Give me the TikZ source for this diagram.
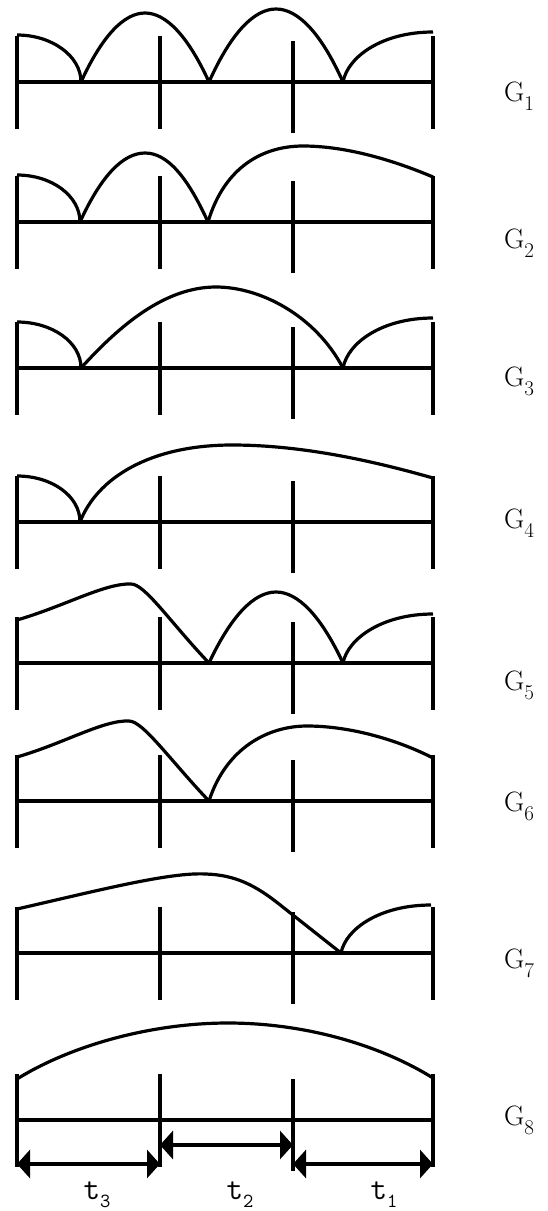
\documentclass[tikz,border=0pt]{standalone}
\usepackage{fontspec}
\usetikzlibrary{arrows.meta}
\newcommand{\glab}[1]{G\raisebox{-9pt}{\fontsize{21}{21}\selectfont #1}}
\newcommand{\tlab}[1]{{\ttfamily t\raisebox{-8pt}{\fontsize{20}{20}\selectfont #1}}}
\begin{document}
\begin{tikzpicture}[x=1pt,y=-1pt,
  axisline/.style={line width=3.3pt},
  tickline/.style={line width=3.3pt},
  curveline/.style={line width=3.2pt},
  dimarrow/.style={line width=3.2pt,{Triangle[length=13pt,width=28pt]}-{Triangle[length=13pt,width=28pt]}},
  glabel/.style={anchor=base,inner sep=0pt,font=\fontsize{28}{28}\selectfont},
  tlabel/.style={anchor=base,inner sep=0pt,font=\fontsize{32}{32}\selectfont}]
\useasboundingbox (0,0) rectangle (547,1211);

% axes and ticks
\foreach \A in {82,222,368,522,663,801,953,1120} {
  \draw[axisline] (17,\A) -- (433,\A);
  \draw[tickline] (17,\A-46) -- (17,\A+47);
  \draw[tickline] (160,\A-46) -- (160,\A+47);
  \draw[tickline] (293,\A-41) -- (293,\A+51);
  \draw[tickline] (433,\A-46) -- (433,\A+47);
}
% named tick feet for the dimension arrows
\coordinate (a0) at (17,1164);
\coordinate (a1) at (160,1164);
\coordinate (a1h) at (160,1145);
\coordinate (a2h) at (293,1145);
\coordinate (a2) at (293,1164);
\coordinate (a3) at (433,1164);

% G1
\draw[curveline] (17,35) .. controls (52,35) and (81,56) .. (81,82);
\draw[curveline] (81,82) .. controls (102,36) and (124,13) .. (145,13) .. controls (166,13) and (188,36) .. (209,82);
\draw[curveline] (209,82) .. controls (231,33) and (254,9) .. (276,9) .. controls (298,9) and (321,33) .. (343,82);
\draw[curveline] (343,82) .. controls (348,56) and (383,32) .. (433,32);

% G2
\draw[curveline] (17,175) .. controls (52,175) and (80,196) .. (80,222);
\draw[curveline] (80,222) .. controls (101,176) and (123,153) .. (145,153) .. controls (167,153) and (187,176) .. (208,222);
\draw[curveline] (208,222) .. controls (225,165) and (265,146) .. (303,146) .. controls (350,146) and (400,163) .. (433,177);

% G3
\draw[curveline] (17,322) .. controls (52,322) and (81,342) .. (81,368);
\draw[curveline] (81,368) .. controls (120,325) and (165,287) .. (216,287) .. controls (260,287) and (315,315) .. (343,368);
\draw[curveline] (343,368) .. controls (348,342) and (383,318) .. (433,318);

% G4
\draw[curveline] (17,476) .. controls (52,476) and (80,496) .. (80,522);
\draw[curveline] (80,522) .. controls (97,478) and (150,445) .. (232,445) .. controls (300,445) and (370,460) .. (433,478);

% G5
\draw[curveline] (17,620) .. controls (65,606) and (105,583) .. (131,584) .. controls (145,584) and (170,622) .. (209,663);
\draw[curveline] (209,663) .. controls (231,616) and (254,592) .. (276,592) .. controls (298,592) and (321,616) .. (343,663);
\draw[curveline] (343,663) .. controls (348,638) and (383,614) .. (433,614);

% G6
\draw[curveline] (17,757) .. controls (65,743) and (103,720) .. (129,721) .. controls (143,721) and (170,760) .. (209,801);
\draw[curveline] (209,801) .. controls (226,748) and (268,726) .. (307,726) .. controls (352,726) and (400,741) .. (433,758);

% G7
\draw[curveline] (17,909) .. controls (100,890) and (170,872) .. (206,874) .. controls (235,875) and (255,885) .. (279,904) -- (341,953);
\draw[curveline] (341,953) .. controls (346,928) and (381,905) .. (431,905);

% G8
\draw[curveline] (17,1079) .. controls (70,1046) and (150,1023) .. (228,1023) .. controls (305,1023) and (380,1045) .. (433,1078);

% dimension arrows
\draw[dimarrow] (a0) -- (a1);
\draw[dimarrow] (a1h) -- (a2h);
\draw[dimarrow] (a2) -- (a3);

% labels
\node[glabel] (g1) at (519,101) {\glab{1}};
\node[glabel] (g2) at (519,248) {\glab{2}};
\node[glabel] (g3) at (519,386) {\glab{3}};
\node[glabel] (g4) at (519,528) {\glab{4}};
\node[glabel] (g5) at (519,690) {\glab{5}};
\node[glabel] (g6) at (519,811) {\glab{6}};
\node[glabel] (g7) at (519,968) {\glab{7}};
\node[glabel] (g8) at (519,1125) {\glab{8}};

\node[tlabel] (t3) at (97,1199) {\tlab{3}};
\node[tlabel] (t2) at (240,1199) {\tlab{2}};
\node[tlabel] (t1) at (384,1199) {\tlab{1}};
\end{tikzpicture}
\end{document}
